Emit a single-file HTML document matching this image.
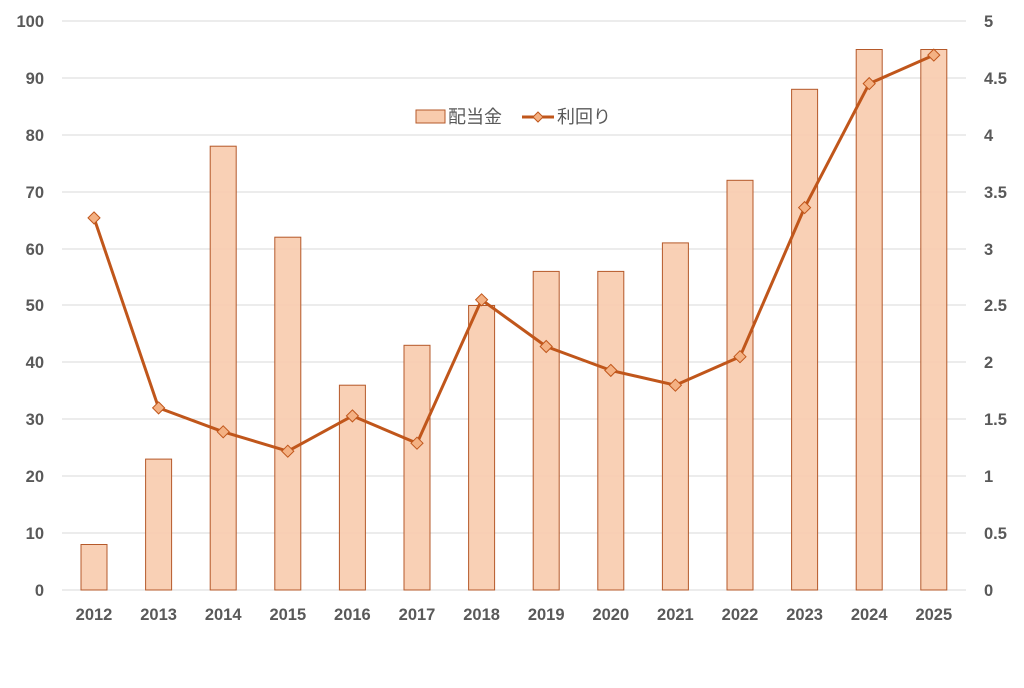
<!DOCTYPE html>
<html><head><meta charset="utf-8"><style>
html,body{margin:0;padding:0;background:#fff;}
text{font-family:"Liberation Sans","Noto Sans CJK JP",sans-serif;fill:#595959;font-size:16.5px;font-weight:bold;}
</style></head><body>
<svg width="1024" height="683" viewBox="0 0 1024 683" xmlns="http://www.w3.org/2000/svg">
<g stroke="#d9d9d9" stroke-width="1">
<line x1="62" x2="966" y1="21" y2="21"/><line x1="62" x2="966" y1="78" y2="78"/>
<line x1="62" x2="966" y1="135" y2="135"/><line x1="62" x2="966" y1="192" y2="192"/>
<line x1="62" x2="966" y1="249" y2="249"/><line x1="62" x2="966" y1="305" y2="305"/>
<line x1="62" x2="966" y1="362" y2="362"/><line x1="62" x2="966" y1="419" y2="419"/>
<line x1="62" x2="966" y1="476" y2="476"/><line x1="62" x2="966" y1="533" y2="533"/>
<line x1="62" x2="966" y1="590" y2="590"/>
</g>
<g text-anchor="end">
<text x="44" y="27">100</text><text x="44" y="84">90</text><text x="44" y="141">80</text>
<text x="44" y="198">70</text><text x="44" y="255">60</text><text x="44" y="311">50</text>
<text x="44" y="368">40</text><text x="44" y="425">30</text><text x="44" y="482">20</text>
<text x="44" y="539">10</text><text x="44" y="596">0</text>
</g>
<g text-anchor="start">
<text x="984" y="27">5</text><text x="984" y="84">4.5</text><text x="984" y="141">4</text>
<text x="984" y="198">3.5</text><text x="984" y="255">3</text><text x="984" y="311">2.5</text>
<text x="984" y="368">2</text><text x="984" y="425">1.5</text><text x="984" y="482">1</text>
<text x="984" y="539">0.5</text><text x="984" y="596">0</text>
</g>
<g fill="#f8cbad" fill-opacity="0.9" stroke="#b5592a" stroke-width="1">
<rect x="81" y="544.5" width="26" height="45.5"/>
<rect x="145.6" y="459.1" width="26" height="130.9"/>
<rect x="210.2" y="146.2" width="26" height="443.8"/>
<rect x="274.8" y="237.2" width="26" height="352.8"/>
<rect x="339.4" y="385.2" width="26" height="204.8"/>
<rect x="404" y="345.3" width="26" height="244.7"/>
<rect x="468.6" y="305.5" width="26" height="284.5"/>
<rect x="533.2" y="271.4" width="26" height="318.6"/>
<rect x="597.8" y="271.4" width="26" height="318.6"/>
<rect x="662.4" y="242.9" width="26" height="347.1"/>
<rect x="727" y="180.3" width="26" height="409.7"/>
<rect x="791.6" y="89.3" width="26" height="500.7"/>
<rect x="856.2" y="49.5" width="26" height="540.5"/>
<rect x="920.8" y="49.5" width="26" height="540.5"/>
</g>
<polyline fill="none" stroke="#c0561b" stroke-width="3" stroke-linejoin="round" points="94,217.9 158.6,407.9 223.2,431.8 287.8,451.2 352.4,415.9 417,443.2 481.6,299.8 546.2,346.5 610.8,370.4 675.4,385.2 740,356.7 804.6,207.6 869.2,83.6 933.8,55.1"/>
<g fill="#f4b183" stroke="#c0561b" stroke-width="1">
<path d="M94,211.9l6,6l-6,6l-6,-6z"/><path d="M158.6,401.9l6,6l-6,6l-6,-6z"/>
<path d="M223.2,425.8l6,6l-6,6l-6,-6z"/><path d="M287.8,445.2l6,6l-6,6l-6,-6z"/>
<path d="M352.4,409.9l6,6l-6,6l-6,-6z"/><path d="M417,437.2l6,6l-6,6l-6,-6z"/>
<path d="M481.6,293.8l6,6l-6,6l-6,-6z"/><path d="M546.2,340.5l6,6l-6,6l-6,-6z"/>
<path d="M610.8,364.4l6,6l-6,6l-6,-6z"/><path d="M675.4,379.2l6,6l-6,6l-6,-6z"/>
<path d="M740,350.7l6,6l-6,6l-6,-6z"/><path d="M804.6,201.6l6,6l-6,6l-6,-6z"/>
<path d="M869.2,77.6l6,6l-6,6l-6,-6z"/><path d="M933.8,49.1l6,6l-6,6l-6,-6z"/>
</g>
<g text-anchor="middle">
<text x="94" y="620">2012</text><text x="158.6" y="620">2013</text><text x="223.2" y="620">2014</text>
<text x="287.8" y="620">2015</text><text x="352.4" y="620">2016</text><text x="417" y="620">2017</text>
<text x="481.6" y="620">2018</text><text x="546.2" y="620">2019</text><text x="610.8" y="620">2020</text>
<text x="675.4" y="620">2021</text><text x="740" y="620">2022</text><text x="804.6" y="620">2023</text>
<text x="869.2" y="620">2024</text><text x="933.8" y="620">2025</text>
</g>
<rect x="416" y="110" width="29" height="13" fill="#f8cbad" stroke="#b5592a" stroke-width="1"/>
<text x="448" y="123" style="font-size:18px;font-weight:normal">配当金</text>
<line x1="522" x2="554" y1="117" y2="117" stroke="#c0561b" stroke-width="3"/>
<path d="M538,112l5,5l-5,5l-5,-5z" fill="#f4b183" stroke="#c0561b" stroke-width="1"/>
<text x="557" y="123" style="font-size:18px;font-weight:normal">利回り</text>
</svg>
</body></html>
